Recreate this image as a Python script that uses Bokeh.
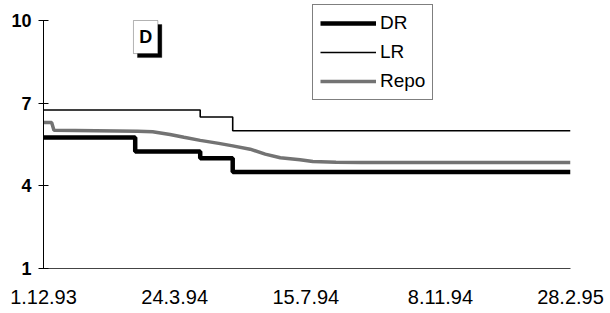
import pandas as pd
from bokeh.plotting import figure
from bokeh.models import (Range1d, FixedTicker, Legend, LegendItem, BoxAnnotation, Label)
from bokeh.embed import file_html
from bokeh.resources import INLINE

# ---- data ----
dr_dates = ["1993-12-01", "1994-02-18", "1994-04-15", "1994-05-13", "1995-02-28"]
dr_vals = [5.75, 5.25, 5.0, 4.5, 4.5]

lr_dates = ["1993-12-01", "1994-04-15", "1994-05-13", "1995-02-28"]
lr_vals = [6.75, 6.5, 6.0, 6.0]

repo_dates = ["1993-12-01", "1993-12-08", "1993-12-10", "1994-01-15", "1994-02-20",
              "1994-03-05", "1994-03-20", "1994-04-01", "1994-04-15", "1994-05-01",
              "1994-05-13", "1994-05-28", "1994-06-10", "1994-06-23", "1994-07-10",
              "1994-07-21", "1994-08-10", "1994-09-01", "1995-02-28"]
repo_vals = [6.30, 6.30, 6.02, 6.00, 5.98,
             5.96, 5.86, 5.76, 5.65, 5.54,
             5.45, 5.33, 5.15, 5.02, 4.95,
             4.88, 4.86, 4.85, 4.85]

tick_dates = ["1993-12-01", "1994-03-24", "1994-07-15", "1994-11-08", "1995-02-28"]
tick_labels = ["1.12.93", "24.3.94", "15.7.94", "8.11.94", "28.2.95"]
y_ticks = [1, 4, 7, 10]

def ms(s):
    return pd.Timestamp(s).value / 1e6

FONT = "Liberation Sans"

# extra headroom above 10 so the legend (which sits above the axis top) is not clipped
px_per_unit = 248 / 9.0
y_top = 10 + 16 / px_per_unit

p = figure(width=610, height=313, x_axis_type="datetime",
           output_backend="svg", toolbar_location=None,
           x_range=Range1d(ms("1993-12-01"), ms("1995-02-28")),
           y_range=Range1d(1, y_top),
           min_border_left=43, min_border_right=40,
           min_border_top=4, min_border_bottom=45)
p.outline_line_color = None
p.grid.grid_line_color = None
p.background_fill_color = "white"
p.border_fill_color = "white"

r_dr = p.step(x=[pd.Timestamp(d) for d in dr_dates], y=dr_vals, mode="after",
              line_color="black", line_width=4.5)
r_lr = p.step(x=[pd.Timestamp(d) for d in lr_dates], y=lr_vals, mode="after",
              line_color="black", line_width=1.6)
r_repo = p.line(x=[pd.Timestamp(d) for d in repo_dates], y=repo_vals,
                line_color="#737373", line_width=3.5)

# axes
xa = p.xaxis[0]
xa.ticker = FixedTicker(ticks=[ms(d) for d in tick_dates])
xa.major_label_overrides = {ms(d): l for d, l in zip(tick_dates, tick_labels)}
xa.major_tick_in = 0
xa.major_tick_out = 0
xa.minor_tick_in = 0
xa.minor_tick_out = 0
xa.axis_line_color = "#444444"
xa.axis_line_width = 1
xa.major_label_standoff = 21
xa.major_label_text_font = FONT
xa.major_label_text_font_size = "20px"
xa.major_label_text_font_style = "normal"
xa.major_label_text_color = "black"

ya = p.yaxis[0]
ya.ticker = FixedTicker(ticks=y_ticks)
ya.bounds = (1, 10)
ya.major_tick_in = 5
ya.major_tick_out = 5
ya.minor_tick_in = 0
ya.minor_tick_out = 0
ya.axis_line_color = "black"
ya.major_tick_line_color = "black"
ya.major_label_standoff = 7
ya.major_label_text_font = FONT
ya.major_label_text_font_size = "18px"
ya.major_label_text_font_style = "bold"
ya.major_label_text_color = "black"

# legend
legend = Legend(items=[LegendItem(label="DR", renderers=[r_dr]),
                       LegendItem(label="LR", renderers=[r_lr]),
                       LegendItem(label="Repo", renderers=[r_repo])],
                location=(269, 168), orientation="vertical",
                label_text_font=FONT, label_text_font_size="19px",
                label_text_color="black",
                glyph_width=56, glyph_height=20, label_height=20,
                label_standoff=4, spacing=7, padding=7, margin=0,
                border_line_color="black", border_line_width=1,
                background_fill_color="white", background_fill_alpha=1)
p.add_layout(legend, "center")

# "D" panel marker with shadow
px_day = 1.0 / 1.1608  # days per pixel (approx)
day = 86400000.0
x0 = ms("1993-12-01")
box_l, box_r = x0 + 77.5 * day, x0 + 98.5 * day
box_t, box_b = 10.0, 8.80
sx, sy = 4 * px_day * day, 4 / px_per_unit
p.add_layout(BoxAnnotation(left=box_l + sx, right=box_r + sx, top=box_t - sy, bottom=box_b - sy,
                           fill_color="black", fill_alpha=1, line_color="black"))
p.add_layout(BoxAnnotation(left=box_l, right=box_r, top=box_t, bottom=box_b,
                           fill_color="white", fill_alpha=1, line_color="black", line_width=1))
p.add_layout(Label(x=(box_l + box_r) / 2, y=(box_t + box_b) / 2, text="D",
                   text_align="center", text_baseline="middle",
                   text_font=FONT, text_font_size="18px", text_font_style="bold",
                   text_color="black"))

open("out.html", "w").write(file_html(p, INLINE))
